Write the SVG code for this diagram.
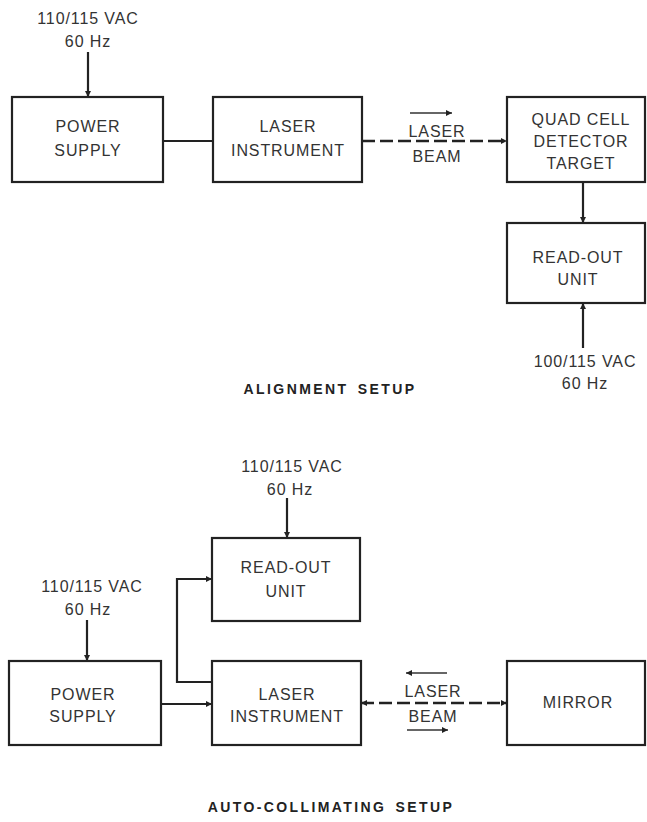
<svg xmlns="http://www.w3.org/2000/svg" width="647" height="822" viewBox="0 0 647 822">
<style>
.box{fill:#fff;stroke:#222;stroke-width:2.2}
.t{font-family:"Liberation Sans",Arial,sans-serif;font-size:16px;fill:#333;text-anchor:middle;letter-spacing:0.9px}
.h{font-family:"Liberation Sans",Arial,sans-serif;font-size:14px;font-weight:bold;fill:#222;text-anchor:middle;letter-spacing:2.4px;word-spacing:3px}
.ln{fill:none;stroke:#222;stroke-width:2.2}
.ds{fill:none;stroke:#222;stroke-width:2.5;stroke-dasharray:13 5}
.sm{fill:none;stroke:#333;stroke-width:1.5}
</style>
<defs>
<marker id="ah" viewBox="0 0 10 10" refX="10" refY="5" markerWidth="7" markerHeight="6" markerUnits="userSpaceOnUse" orient="auto-start-reverse"><path d="M0,0 L10,5 L0,10 z" fill="#222"/></marker>
</defs>

<g id="connectors">
<line class="ln" x1="88" y1="52" x2="88" y2="97" marker-end="url(#ah)"/>
<line class="ln" x1="163" y1="141" x2="213" y2="141"/>
<line class="ds" x1="362" y1="141" x2="507" y2="141" marker-end="url(#ah)"/>
<line class="sm" x1="410" y1="113" x2="452" y2="113" marker-end="url(#ah)"/>
<line class="ln" x1="583" y1="182" x2="583" y2="223" marker-end="url(#ah)"/>
<line class="ln" x1="583" y1="348" x2="583" y2="303" marker-end="url(#ah)"/>

<line class="ln" x1="287" y1="498" x2="287" y2="538" marker-end="url(#ah)"/>
<line class="ln" x1="87" y1="620" x2="87" y2="661" marker-end="url(#ah)"/>
<line class="ln" x1="161" y1="704" x2="212" y2="704" marker-end="url(#ah)"/>
<polyline class="ln" points="212,682 177,682 177,579 212,579" marker-end="url(#ah)"/>
<line class="ds" x1="361" y1="703" x2="507" y2="703" marker-start="url(#ah)" marker-end="url(#ah)"/>
<line class="sm" x1="447" y1="673" x2="406" y2="673" marker-end="url(#ah)"/>
<line class="sm" x1="407" y1="730" x2="448" y2="730" marker-end="url(#ah)"/>
</g>

<g id="ps1"><rect class="box" x="12" y="97" width="151" height="85"/>
<text class="t" x="88" y="132">POWER</text><text class="t" x="88" y="156">SUPPLY</text></g>
<g id="laser1"><rect class="box" x="213" y="97" width="149" height="85"/>
<text class="t" x="288" y="132">LASER</text><text class="t" x="288" y="156">INSTRUMENT</text></g>
<g id="quad"><rect class="box" x="507" y="97" width="138" height="85"/>
<text class="t" x="581" y="125">QUAD CELL</text><text class="t" x="581" y="147">DETECTOR</text><text class="t" x="581" y="169">TARGET</text></g>
<g id="readout1"><rect class="box" x="507" y="223" width="138" height="80"/>
<text class="t" x="578" y="263">READ-OUT</text><text class="t" x="578" y="285">UNIT</text></g>
<g id="beam1"><text class="t" x="437" y="137">LASER</text><text class="t" x="437" y="162">BEAM</text></g>
<g id="pwr1"><text class="t" x="88" y="24">110/115 VAC</text><text class="t" x="88" y="47">60 Hz</text></g>
<g id="pwr2"><text class="t" x="585" y="367">100/115 VAC</text><text class="t" x="585" y="389">60 Hz</text></g>
<text class="h" x="330" y="394">ALIGNMENT SETUP</text>

<g id="pwr3"><text class="t" x="292" y="472">110/115 VAC</text><text class="t" x="290" y="495">60 Hz</text></g>
<g id="readout2"><rect class="box" x="212" y="538" width="148" height="83"/>
<text class="t" x="286" y="573">READ-OUT</text><text class="t" x="286" y="597">UNIT</text></g>
<g id="pwr4"><text class="t" x="92" y="592">110/115 VAC</text><text class="t" x="88" y="615">60 Hz</text></g>
<g id="ps2"><rect class="box" x="9" y="661" width="152" height="84"/>
<text class="t" x="83" y="700">POWER</text><text class="t" x="83" y="722">SUPPLY</text></g>
<g id="laser2"><rect class="box" x="212" y="661" width="149" height="84"/>
<text class="t" x="287" y="700">LASER</text><text class="t" x="287" y="722">INSTRUMENT</text></g>
<g id="beam2"><text class="t" x="433" y="697">LASER</text><text class="t" x="433" y="722">BEAM</text></g>
<g id="mirror"><rect class="box" x="507" y="661" width="138" height="84"/>
<text class="t" x="578" y="708">MIRROR</text></g>
<text class="h" x="331" y="812">AUTO-COLLIMATING SETUP</text>
</svg>
